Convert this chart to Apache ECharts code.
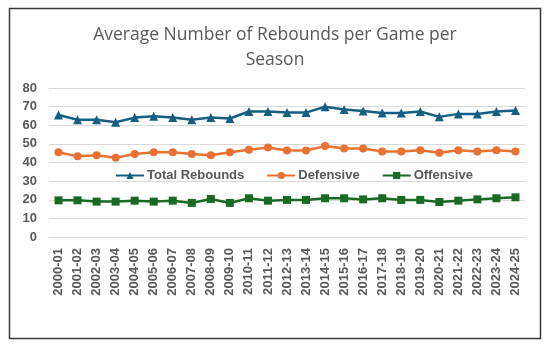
<!DOCTYPE html>
<html><head><meta charset="utf-8">
<script src="https://cdn.jsdelivr.net/npm/echarts@6/dist/echarts.min.js"></script>
<style>html,body{margin:0;padding:0;background:#fff}#c{width:550px;height:348px}</style>
</head><body><div id="c"></div>
<script>
const seasons = ["2000-01","2001-02","2002-03","2003-04","2004-05","2005-06","2006-07","2007-08","2008-09","2009-10","2010-11","2011-12","2012-13","2013-14","2014-15","2015-16","2016-17","2017-18","2018-19","2019-20","2020-21","2021-22","2022-23","2023-24","2024-25"];
const totalRebounds = [65.5,63.0,63.0,61.6,64.1,64.8,64.1,63.0,64.1,63.6,67.4,67.4,66.8,66.8,69.9,68.5,67.7,66.6,66.6,67.4,64.5,66.1,66.1,67.4,67.9];
const defensive = [45.5,43.3,43.9,42.6,44.6,45.5,45.5,44.6,43.9,45.5,46.8,48.0,46.4,46.4,48.8,47.5,47.5,45.9,45.9,46.6,45.2,46.6,45.9,46.6,45.9];
const offensive = [19.7,19.7,19.0,19.0,19.5,19.0,19.5,18.3,20.4,18.3,20.8,19.5,19.9,19.9,20.8,20.8,20.2,20.8,19.9,19.9,18.8,19.5,20.2,20.8,21.3];
const yTicks = {min:0, max:80, interval:10};
const titleText = "Average Number of Rebounds per Game per\nSeason";

const chart = echarts.init(document.getElementById('c'), null, {renderer:'canvas'});
const lbl = {color:'#595959', fontFamily:'Liberation Sans, Arial, sans-serif', fontWeight:'bold', fontSize:12.5};
function s(name, data, color, symbol, size){
  return {name, type:'line', data, symbol, symbolSize:size, color,
    lineStyle:{width:2.5, color}, itemStyle:{color}, animation:false};
}
chart.setOption({
  animation:false,
  graphic:[{type:'rect', shape:{x:9.5,y:8.5,width:531,height:330}, style:{fill:null, stroke:'#3a3a3a', lineWidth:1.5}, silent:true}],
  title:{text:titleText, left:'center', top:18, textStyle:{color:'#595959', fontFamily:'Open Sans, sans-serif', fontWeight:'normal', fontSize:17.5, lineHeight:25}},
  legend:{top:164, left:110, itemWidth:28, itemHeight:9, itemGap:22,
    textStyle:{...lbl, fontSize:13, padding:[0,0,0,-2]},
    data:['Total Rebounds','Defensive','Offensive']},
  grid:{left:49, right:25, top:88, bottom:111, containLabel:false},
  xAxis:{type:'category', data:seasons, boundaryGap:true,
    axisLine:{show:true, lineStyle:{color:'#d9d9d9'}}, axisTick:{show:false},
    axisLabel:{...lbl, fontSize:13, rotate:90, interval:0, margin:11}},
  yAxis:{type:'value', min:yTicks.min, max:yTicks.max, interval:yTicks.interval,
    axisLine:{show:false}, axisTick:{show:false},
    splitLine:{lineStyle:{color:'#d9d9d9', width:1}},
    axisLabel:{...lbl, fontSize:13, margin:12}},
  series:[
    s('Total Rebounds', totalRebounds, '#156082', 'triangle', 9),
    s('Defensive', defensive, '#E97132', 'circle', 8),
    s('Offensive', offensive, '#196B24', 'rect', 8)
  ]
});
</script></body></html>
